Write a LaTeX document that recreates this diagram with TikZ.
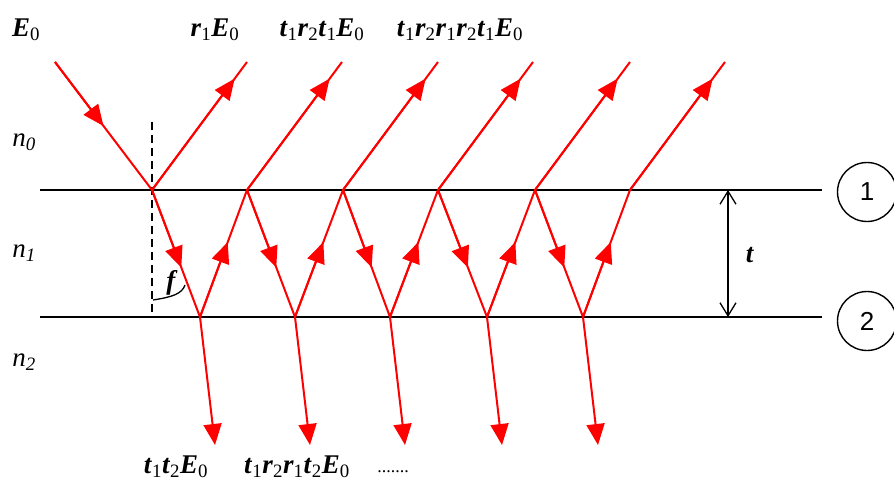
\documentclass[tikz,border=0pt]{standalone}
\usepackage{fontspec}
\setmainfont{Liberation Serif}
\newfontfamily\circfont{Liberation Sans}
\usetikzlibrary{arrows.meta,calc}
\newcommand{\bfit}[1]{\textbf{\textit{#1}}}

\begin{document}
\begin{tikzpicture}[x=1pt, y=-1pt, line width=1.6pt,
    every node/.style={font=\fontsize{27}{30}\selectfont, inner sep=1pt},
    ray/.style={red, line width=2pt},
    tip/.style={-{Triangle[length=21pt,width=18pt]}},
    layer/.style={black, line width=2pt}]
    \useasboundingbox (0,0) rectangle (894,484);

    % Grenzflaechen 1 und 2
    \draw[layer] (40,190) -- (822,190);
    \draw[layer] (40,317) -- (822,317);
    \node[circle, draw, line width=1.4pt, minimum size=59pt, inner sep=0pt,
          font=\circfont\fontsize{26}{28}\selectfont] (c1) at (867,192) {1};
    \node[circle, draw, line width=1.4pt, minimum size=59pt, inner sep=0pt,
          font=\circfont\fontsize{26}{28}\selectfont] (c2) at (867,321) {2};

    % Brechzahlen
    \node (n0) at (24,142) {\textit{n}\textsubscript{\textit{0}}};
    \node (n1) at (24,253) {\textit{n}\textsubscript{\textit{1}}};
    \node (n2) at (24,362) {\textit{n}\textsubscript{\textit{2}}};

    % Dicke t
    \coordinate (d1) at (728,190);
    \coordinate (d2) at (728,317);
    \draw[{Straight Barb[length=13pt,width=16pt]}-{Straight Barb[length=13pt,width=16pt]},
          line width=1.3pt] (d1) -- (d2);
    \node (t) at (750,255) {\bfit{t}};

    % --- Punkte auf den Grenzflaechen ---
    \foreach \i/\xt in {0/152, 1/247, 2/343, 3/438, 4/535, 5/630} {
        \coordinate (T\i) at (\xt,190);
        \coordinate (R\i) at (\xt+95,62);
    }
    \foreach \i/\xb in {0/200, 1/295, 2/390, 3/487, 4/583} {
        \coordinate (B\i) at (\xb,317);
        \coordinate (D\i) at (\xb+15,445);
    }
    \coordinate (S) at (55,62);

    % Lot und Winkel
    \draw[dashed, dash pattern=on 8pt off 5pt, line width=1.8pt] (152,122) -- (152,316);
    \draw[line width=1.3pt] (153,300) .. controls (172,297) and (182,294) .. (185,285);
    \node (f) at (172,283) {\bfit{f}};

    % einfallende Welle
    \draw[ray] (S) -- (T0);
    \draw[ray, tip] (S) -- ($(S)!0.5!(T0)$);

    % reflektierte Wellen
    \foreach \i in {0,...,5} {
        \draw[ray] (T\i) -- (R\i);
        \draw[ray, tip] (T\i) -- ($(T\i)!0.87!(R\i)$);
    }

    % Mehrfachreflexion in der Schicht und transmittierte Wellen
    \foreach \i in {0,...,4} {
        \pgfmathtruncatemacro\j{\i+1}
        \draw[ray] (T\i) -- (B\i) -- (T\j);
        \draw[ray, tip] (T\i) -- ($(T\i)!0.61!(B\i)$);
        \draw[ray, tip] (B\i) -- ($(B\i)!0.59!(T\j)$);
        \draw[ray, tip] (B\i) -- (D\i);
    }

    % Beschriftungen
    \node (lE) at (26,30) {\bfit{E}\textsubscript{0}};
    \node (lr) at (215,30) {\bfit{r}\textsubscript{1}\bfit{E}\textsubscript{0}};
    \node (ltrt) at (322,30) {\bfit{t}\textsubscript{1}\bfit{r}\textsubscript{2}\bfit{t}\textsubscript{1}\bfit{E}\textsubscript{0}};
    \node (ltrrrt) at (460,30) {\bfit{t}\textsubscript{1}\bfit{r}\textsubscript{2}\bfit{r}\textsubscript{1}\bfit{r}\textsubscript{2}\bfit{t}\textsubscript{1}\bfit{E}\textsubscript{0}};
    \node (ltt) at (176,467) {\bfit{t}\textsubscript{1}\bfit{t}\textsubscript{2}\bfit{E}\textsubscript{0}};
    \node (ltrrt) at (297,467) {\bfit{t}\textsubscript{1}\bfit{r}\textsubscript{2}\bfit{r}\textsubscript{1}\bfit{t}\textsubscript{2}\bfit{E}\textsubscript{0}};
    \node[font=\fontsize{18}{18}\selectfont] (dots) at (393,472) {.......};
\end{tikzpicture}
\end{document}
